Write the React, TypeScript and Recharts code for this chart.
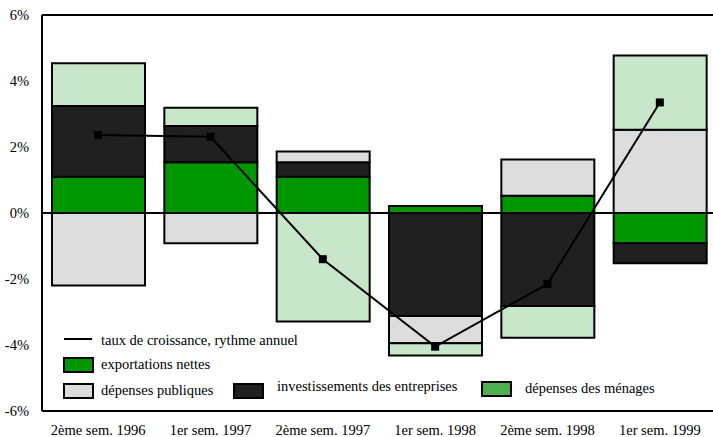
import React from "react";
import {
  ComposedChart,
  Bar,
  Line,
  XAxis,
  YAxis,
  ReferenceLine,
} from "recharts";

const periods = [
  "2ème sem. 1996",
  "1er sem. 1997",
  "2ème sem. 1997",
  "1er sem. 1998",
  "2ème sem. 1998",
  "1er sem. 1999",
];
const exportations = [1.1, 1.54, 1.1, 0.21, 0.52, -0.92];
const investissements = [2.14, 1.1, 0.44, -3.12, -2.82, -0.6];
const publiques = [-2.2, -0.92, 0.32, -0.83, 1.1, 2.52];
const menages = [1.3, 0.55, -3.29, -0.37, -0.96, 2.25];
const croissance = [2.36, 2.31, -1.4, -4.05, -2.15, 3.35];
const yTicks = [-6, -4, -2, 0, 2, 4, 6];

const data = periods.map((p, i) => ({
  period: p,
  exportations: exportations[i],
  investissements: investissements[i],
  publiques: publiques[i],
  menages: menages[i],
  croissance: croissance[i],
}));

const FONT = '"Liberation Serif", "Times New Roman", serif';
const FS = 14.5;
const C_EXP = "#009600";
const C_INV = "#202020";
const C_PUB = "#dddddd";
const C_MEN = "#c8e6c9";
const C_MEN_LEG = "#4caf50";

const SquareDot = (props: any) => {
  const { cx, cy } = props;
  if (cx == null || cy == null) return null;
  return <rect x={cx - 4} y={cy - 4} width={8} height={8} fill="#000" />;
};

const swatch = (left: number, top: number, color: string) => (
  <div
    style={{
      position: "absolute",
      left,
      top,
      width: 27,
      height: 12,
      background: color,
      border: "2px solid #000",
    }}
  />
);

const label = (left: number, centerY: number, text: string) => (
  <div
    style={{
      position: "absolute",
      left,
      top: centerY - 10,
      height: 20,
      lineHeight: "20px",
      fontFamily: FONT,
      fontSize: FS,
      color: "#000",
      whiteSpace: "nowrap",
    }}
  >
    {text}
  </div>
);

export default function App() {
  return (
    <div
      style={{
        position: "absolute",
        left: 0,
        top: 0,
        width: 713,
        height: 437,
        overflow: "hidden",
        background: "#fff",
      }}
    >
      <ComposedChart
        width={720}
        height={437}
        data={data}
        stackOffset="sign"
        margin={{ top: 15, right: 4, left: 0, bottom: 0 }}
      >
        <XAxis
          dataKey="period"
          height={26}
          tickLine={false}
          tickSize={0}
          tickMargin={14}
          axisLine={{ stroke: "#000", strokeWidth: 2 }}
          tick={{ fontFamily: FONT, fontSize: FS, fill: "#000" }}
          interval={0}
        />
        <YAxis
          width={42}
          domain={[-6, 6]}
          ticks={yTicks}
          tickFormatter={(v: number) => `${v}%`}
          tickLine={false}
          tickSize={0}
          tickMargin={13}
          axisLine={{ stroke: "#000", strokeWidth: 2 }}
          tick={{ fontFamily: FONT, fontSize: FS, fill: "#000" }}
        />
        <Bar
          dataKey="exportations"
          stackId="a"
          fill={C_EXP}
          stroke="#000"
          strokeWidth={2}
          barSize={93}
          isAnimationActive={false}
        />
        <Bar
          dataKey="investissements"
          stackId="a"
          fill={C_INV}
          stroke="#000"
          strokeWidth={2}
          barSize={93}
          isAnimationActive={false}
        />
        <Bar
          dataKey="publiques"
          stackId="a"
          fill={C_PUB}
          stroke="#000"
          strokeWidth={2}
          barSize={93}
          isAnimationActive={false}
        />
        <Bar
          dataKey="menages"
          stackId="a"
          fill={C_MEN}
          stroke="#000"
          strokeWidth={2}
          barSize={93}
          isAnimationActive={false}
        />
        <ReferenceLine y={0} stroke="#000" strokeWidth={2} />
        <ReferenceLine y={6} stroke="#000" strokeWidth={2} />
        <Line
          dataKey="croissance"
          type="linear"
          stroke="#000"
          strokeWidth={2}
          dot={<SquareDot />}
          activeDot={false}
          isAnimationActive={false}
        />
      </ComposedChart>

      <div
        style={{
          position: "absolute",
          left: 64,
          top: 338,
          width: 28,
          height: 2,
          background: "#000",
        }}
      />
      {label(101, 340, "taux de croissance, rythme annuel")}
      {swatch(63, 357, C_EXP)}
      {label(101, 364, "exportations nettes")}
      {swatch(63, 383, C_PUB)}
      {label(101, 390, "dépenses publiques")}
      {swatch(233, 383, C_INV)}
      {label(277, 386, "investissements des entreprises")}
      {swatch(481, 381, C_MEN_LEG)}
      {label(525, 388, "dépenses des ménages")}
    </div>
  );
}
